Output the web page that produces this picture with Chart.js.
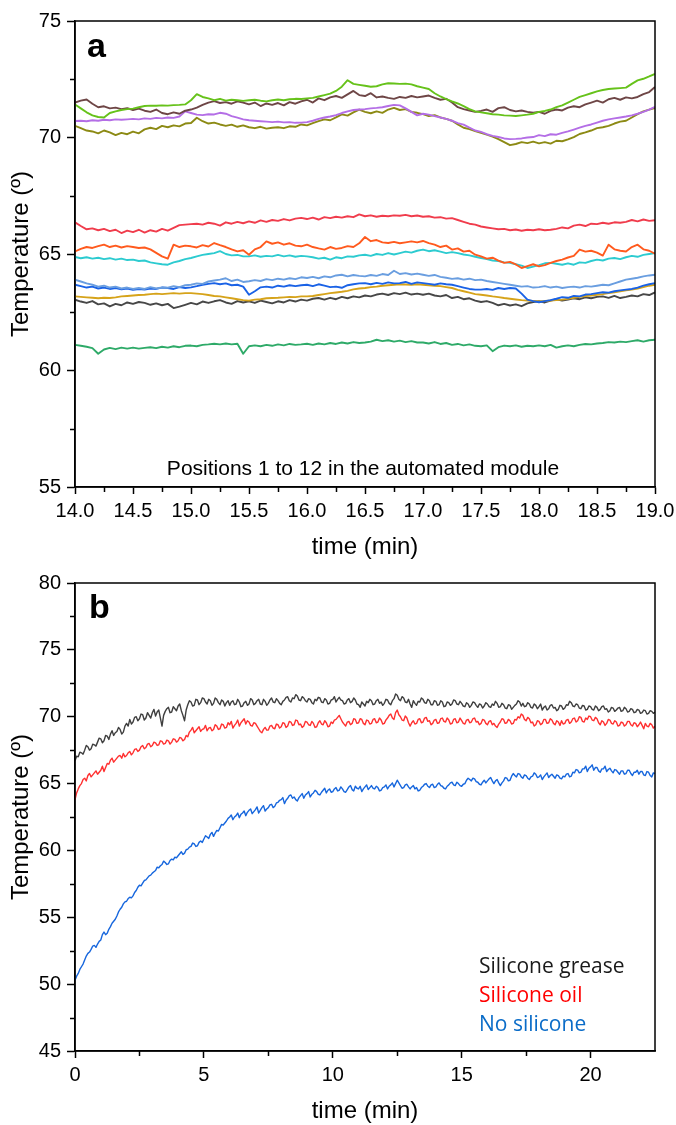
<!DOCTYPE html>
<html>
<head>
<meta charset="utf-8">
<script src="https://cdn.jsdelivr.net/npm/chart.js@4.4.1/dist/chart.umd.min.js"></script>
<style>
  html, body { margin: 0; padding: 0; background: #fff; }
  .panel { position: absolute; left: 0; width: 676px; height: 563px; }
  #panelA { top: 0; }
  #panelB { top: 564px; }
</style>
</head>
<body>
<div class="panel" id="panelA"><canvas id="chartA" width="676" height="563"></canvas></div>
<div class="panel" id="panelB"><canvas id="chartB" width="676" height="563"></canvas></div>
<script>
// ====== PANEL A: positions 1..12, readings every 0.05 min between 14.0 and 19.0
const STEP_A = 0.05;
const p1 = [
  71.42, 71.25, 71.08, 70.95, 70.88, 70.86, 71.05, 71.12, 71.18, 71.22,
  71.24, 71.3, 71.35, 71.37, 71.36, 71.38, 71.37, 71.39, 71.4, 71.42,
  71.6, 71.86, 71.74, 71.68, 71.6, 71.66, 71.58, 71.62, 71.6, 71.57,
  71.6, 71.62, 71.58, 71.55, 71.6, 71.63, 71.6, 71.64, 71.66, 71.65,
  71.68, 71.7, 71.76, 71.82, 71.88, 72.0, 72.18, 72.46, 72.3, 72.26,
  72.22, 72.18, 72.2, 72.28, 72.33, 72.32, 72.3, 72.31, 72.28, 72.2,
  72.14, 72.08, 71.9, 71.76, 71.65, 71.55, 71.46, 71.35, 71.22, 71.12,
  71.08, 71.04, 71.0, 70.98, 70.95, 70.94, 70.92, 70.95, 70.98, 71.02,
  71.1, 71.14, 71.2, 71.3, 71.38, 71.5, 71.62, 71.74, 71.82, 71.9,
  71.98, 72.04, 72.08, 72.1, 72.12, 72.14, 72.3, 72.45, 72.52, 72.62,
  72.73
];
const p2 = [
  71.5, 71.58, 71.63, 71.45, 71.3, 71.34, 71.25, 71.28, 71.22, 71.26,
  71.18, 71.24, 71.15, 71.1, 71.2, 71.05, 71.0, 71.08, 71.02, 71.15,
  71.2, 71.28, 71.4, 71.5, 71.56, 71.48, 71.52, 71.45, 71.55, 71.5,
  71.42, 71.5, 71.35, 71.46, 71.4, 71.48, 71.38, 71.52, 71.45, 71.55,
  71.62, 71.5, 71.68, 71.6, 71.72, 71.78, 71.7, 71.85, 72.0, 71.82,
  71.78, 71.9, 71.72, 71.76, 71.7, 71.66, 71.74, 71.7, 71.78, 71.72,
  71.76, 71.8, 71.7, 71.62, 71.66, 71.5, 71.3, 71.22, 71.16, 71.1,
  71.14, 71.2, 71.1, 71.26, 71.3, 71.18, 71.12, 71.16, 71.1, 71.06,
  71.1, 71.02, 71.14, 71.2, 71.16, 71.28, 71.34, 71.3, 71.42, 71.5,
  71.58, 71.5, 71.64, 71.7, 71.62, 71.72, 71.68, 71.74, 71.86, 71.95,
  72.17
];
const p3 = [
  70.71, 70.72, 70.7, 70.74, 70.72, 70.76, 70.74, 70.78, 70.76, 70.78,
  70.8, 70.78, 70.82, 70.8, 70.84, 70.82, 70.86, 70.84, 70.9, 71.12,
  71.05, 70.98, 70.96, 71.0, 70.99, 71.06, 71.02, 70.92, 70.85, 70.78,
  70.74, 70.72, 70.7, 70.68, 70.66, 70.68, 70.65, 70.66, 70.63, 70.64,
  70.66, 70.72, 70.8, 70.86, 70.9, 70.96, 71.05, 71.12, 71.18, 71.2,
  71.22, 71.25, 71.27, 71.3, 71.35, 71.4, 71.38, 71.25, 71.1, 70.95,
  71.02, 70.98, 70.92, 70.86, 70.8, 70.72, 70.62, 70.55, 70.42, 70.3,
  70.24, 70.14, 70.07, 70.02, 69.96, 69.93, 69.94, 69.96, 70.0, 70.02,
  70.1, 70.06, 70.14, 70.12, 70.2, 70.26, 70.34, 70.42, 70.5, 70.56,
  70.64, 70.72, 70.78, 70.82, 70.86, 70.9, 70.95, 71.02, 71.1, 71.2,
  71.32
];
const p4 = [
  70.5, 70.4, 70.3, 70.26, 70.18, 70.3, 70.22, 70.1, 70.2, 70.14,
  70.25, 70.18, 70.35, 70.42, 70.36, 70.5, 70.44, 70.52, 70.48, 70.6,
  70.62, 70.85, 70.7, 70.6, 70.64, 70.56, 70.5, 70.55, 70.46, 70.52,
  70.44, 70.4, 70.46, 70.38, 70.42, 70.44, 70.4, 70.48, 70.46, 70.56,
  70.52, 70.62, 70.7, 70.78, 70.74, 70.86, 70.99, 70.94, 71.08, 71.2,
  71.1, 71.04, 71.12, 71.06, 71.2, 71.27, 71.18, 71.22, 71.1, 71.06,
  71.0, 70.92, 70.96, 70.86, 70.8, 70.72, 70.56, 70.42, 70.36, 70.28,
  70.2, 70.12, 70.04, 69.93, 69.8, 69.67, 69.72, 69.8, 69.76, 69.82,
  69.75, 69.8, 69.74, 69.86, 69.84, 69.92, 70.02, 70.15, 70.22, 70.3,
  70.4, 70.44, 70.5, 70.6, 70.68, 70.72, 70.86, 71.0, 71.12, 71.2,
  71.27
];
const p5 = [
  66.36, 66.2, 66.06, 66.1, 66.02, 66.08, 65.98, 66.04, 65.9, 66.0,
  65.94, 66.04, 65.92, 66.02, 65.96, 66.08, 66.0, 66.12, 66.24, 66.26,
  66.28, 66.3, 66.26, 66.34, 66.3, 66.22, 66.36, 66.3, 66.38, 66.32,
  66.4, 66.34, 66.44, 66.38, 66.46, 66.42, 66.5, 66.44, 66.52, 66.55,
  66.5, 66.56, 66.48, 66.58, 66.54, 66.6, 66.56, 66.62, 66.58, 66.7,
  66.62, 66.66, 66.6, 66.64, 66.62, 66.66, 66.64, 66.68, 66.62, 66.65,
  66.6, 66.62, 66.56, 66.58, 66.52, 66.54, 66.46, 66.38, 66.3, 66.26,
  66.18, 66.14, 66.1, 66.06, 66.08, 66.02, 66.05, 66.0, 66.04, 66.02,
  66.06, 66.02, 66.04, 66.08, 66.14, 66.1, 66.22, 66.26, 66.2, 66.3,
  66.28, 66.34, 66.3, 66.36, 66.34, 66.38, 66.46, 66.4, 66.48, 66.42,
  66.45
];
const p6 = [
  65.11, 65.22, 65.3, 65.26, 65.34, 65.4, 65.3, 65.36, 65.28, 65.34,
  65.3, 65.26, 65.28, 65.2, 65.05, 64.9, 64.8, 65.4, 65.3, 65.36,
  65.33, 65.28, 65.38, 65.32, 65.47, 65.38, 65.3, 65.2, 65.11, 65.16,
  64.97, 65.2, 65.3, 65.54, 65.44, 65.5, 65.4, 65.46, 65.36, 65.33,
  65.4, 65.3, 65.24, 65.19, 65.3, 65.22, 65.26, 65.34, 65.3, 65.46,
  65.73, 65.55, 65.6, 65.5, 65.47, 65.52, 65.46, 65.5, 65.54, 65.5,
  65.56, 65.47, 65.4, 65.3, 65.36, 65.19, 65.24, 65.1, 65.14, 64.97,
  64.9, 64.8, 64.84, 64.72, 64.62, 64.66, 64.55, 64.4, 64.48, 64.56,
  64.47, 64.52, 64.62, 64.7, 64.76, 64.85, 64.92, 65.19, 65.1, 65.14,
  65.06, 64.93, 65.4, 65.2, 65.14, 65.11, 65.3, 65.4, 65.2, 65.14,
  65.01
];
const p7 = [
  64.87, 64.82, 64.86, 64.8, 64.84, 64.78, 64.82, 64.76, 64.8, 64.74,
  64.76, 64.7, 64.72, 64.64, 64.6, 64.56, 64.54, 64.64, 64.7, 64.78,
  64.83, 64.9, 64.96, 65.0, 65.04, 65.12, 65.0, 64.94, 64.96, 64.9,
  64.9, 64.94, 64.88, 64.92, 64.9, 64.96, 64.9, 64.94, 64.88, 64.92,
  64.9, 64.86, 64.8, 64.84, 64.76, 64.86, 64.82, 64.9, 64.88, 64.94,
  64.97, 64.92, 65.0, 64.96, 65.04, 64.98, 65.04, 65.1, 65.06, 65.14,
  65.19, 65.12, 65.16, 65.1, 65.04, 65.08, 65.04, 64.98, 64.94, 64.88,
  64.83, 64.78, 64.72, 64.7, 64.64, 64.62, 64.56, 64.5, 64.4, 64.46,
  64.52, 64.6, 64.62, 64.58, 64.54, 64.6, 64.54, 64.64, 64.62, 64.7,
  64.76, 64.72, 64.8, 64.83, 64.78, 64.86, 64.92, 64.88, 64.96, 65.0,
  65.04
];
const p8 = [
  63.9, 63.82, 63.74, 63.68, 63.6, 63.64, 63.56, 63.6, 63.52, 63.56,
  63.5, 63.54, 63.5, 63.58, 63.52, 63.56, 63.55, 63.62, 63.58, 63.66,
  63.68, 63.74, 63.72, 63.82, 63.86, 63.9, 63.96, 63.84, 63.9, 63.8,
  63.83, 63.88, 63.84, 63.92, 63.88, 63.94, 63.9, 63.96, 63.92, 64.0,
  63.97, 64.02, 63.96, 64.04, 64.0, 64.08, 64.11, 64.04, 64.1, 64.06,
  64.04, 64.1, 64.06, 64.14, 64.1, 64.28, 64.14, 64.18, 64.12, 64.16,
  64.11, 64.06, 64.1, 64.02, 63.98, 63.93, 63.96, 63.9, 63.94, 63.88,
  63.9, 63.84, 63.8, 63.76, 63.72, 63.68, 63.64, 63.6, 63.62, 63.56,
  63.58, 63.62, 63.56, 63.6, 63.54, 63.58, 63.6, 63.56, 63.62, 63.6,
  63.64, 63.68, 63.66, 63.74, 63.82, 63.9, 63.94, 63.98, 64.04, 64.08,
  64.11
];
const p9 = [
  63.68, 63.62, 63.56, 63.6, 63.52, 63.56, 63.5, 63.54, 63.48, 63.52,
  63.46, 63.5, 63.47, 63.52, 63.5, 63.56, 63.54, 63.5, 63.58, 63.54,
  63.57, 63.62, 63.68, 63.72, 63.75, 63.7, 63.74, 63.66, 63.68, 63.6,
  63.25, 63.4, 63.57, 63.6, 63.56, 63.64, 63.6, 63.66, 63.62, 63.66,
  63.68, 63.62, 63.7, 63.64, 63.58, 63.6, 63.55, 63.66, 63.7, 63.74,
  63.75, 63.7, 63.76, 63.72, 63.78, 63.74, 63.75, 63.8, 63.72, 63.78,
  63.75, 63.72, 63.68, 63.74, 63.7, 63.68, 63.62, 63.56, 63.5, 63.47,
  63.47, 63.5, 63.46, 63.54, 63.5, 63.54, 63.52, 63.3, 63.04, 62.98,
  62.93, 62.98, 63.02, 63.08, 63.15, 63.12, 63.2, 63.18, 63.26, 63.28,
  63.32, 63.36, 63.34, 63.4, 63.44, 63.47, 63.5, 63.56, 63.64, 63.7,
  63.75
];
const p10 = [
  63.18, 63.16, 63.14, 63.12, 63.1, 63.12, 63.11, 63.14, 63.18, 63.2,
  63.22, 63.24, 63.25, 63.28, 63.3, 63.28, 63.3, 63.32, 63.3, 63.32,
  63.32, 63.3, 63.28, 63.24, 63.2, 63.18, 63.14, 63.1, 63.06, 63.02,
  63.0, 63.04, 63.06, 63.1, 63.11, 63.12, 63.14, 63.16, 63.15, 63.18,
  63.18, 63.2, 63.24, 63.28, 63.32, 63.35, 63.38, 63.42, 63.48, 63.52,
  63.54, 63.58, 63.6, 63.64, 63.66, 63.68, 63.7, 63.69, 63.68, 63.7,
  63.68, 63.66, 63.64, 63.62, 63.58, 63.54, 63.46, 63.4, 63.34, 63.28,
  63.25, 63.22, 63.18, 63.15, 63.11, 63.08, 63.05, 63.02, 63.0, 62.98,
  62.96, 62.98, 63.0, 63.02, 63.04, 63.08, 63.12, 63.16, 63.2, 63.22,
  63.25, 63.28, 63.32, 63.36, 63.4, 63.44, 63.47, 63.52, 63.58, 63.64,
  63.68
];
const p11 = [
  63.04, 62.96, 62.9, 62.98, 62.84, 62.88, 62.75, 62.86, 62.8, 62.92,
  62.86, 62.94, 62.9, 62.82, 62.88, 62.8, 62.86, 62.68, 62.74, 62.82,
  62.9, 62.84, 62.96, 62.9, 62.97, 63.02, 62.92, 62.86, 62.98, 62.92,
  62.97, 62.9, 63.0, 62.94, 62.88, 62.97, 62.92, 63.02, 62.96, 63.04,
  63.0, 63.08, 63.11, 63.04, 63.12, 63.06, 63.16, 63.1, 63.18, 63.14,
  63.22, 63.18, 63.26, 63.3, 63.24, 63.32, 63.28, 63.34, 63.26, 63.3,
  63.25, 63.3, 63.22, 63.18, 63.24, 63.11, 63.16, 63.06, 63.1, 63.0,
  62.94, 62.98, 62.9, 62.8, 62.86, 62.79, 62.84, 62.76, 62.88, 62.94,
  62.97, 62.92, 63.0, 63.06, 63.0, 63.04, 63.1, 63.06, 63.14, 63.1,
  63.16, 63.18, 63.12, 63.2, 63.11, 63.16, 63.22, 63.18, 63.28, 63.24,
  63.35
];
const p12 = [
  61.1, 61.06, 61.02, 60.96, 60.72, 60.9, 60.97, 60.92, 60.98, 60.94,
  60.98, 60.94, 60.97, 61.0, 60.96, 61.02, 60.98, 61.04, 61.0, 61.06,
  61.07, 61.04, 61.1, 61.12, 61.15, 61.12, 61.16, 61.12, 61.15, 60.72,
  61.04, 61.08, 61.04, 61.1, 61.06, 61.12, 61.08, 61.14, 61.1, 61.12,
  61.15, 61.1, 61.16, 61.12, 61.18, 61.14, 61.2, 61.16, 61.22, 61.18,
  61.2, 61.24, 61.32, 61.26, 61.3, 61.24, 61.28, 61.22, 61.26, 61.2,
  61.2, 61.16, 61.22, 61.14, 61.18, 61.1, 61.14, 61.08, 61.12, 61.06,
  61.04, 61.08, 60.83, 61.0, 61.07, 61.04, 61.08, 61.02, 61.06, 61.04,
  61.08, 61.04, 61.1, 60.98, 61.04, 61.08, 61.04, 61.1, 61.14, 61.12,
  61.16, 61.18, 61.22, 61.2, 61.24, 61.22, 61.26, 61.3, 61.24, 61.3,
  61.32
];
const positionsA = [p1, p2, p3, p4, p5, p6, p7, p8, p9, p10, p11, p12];
const colorsA = ['#66c21a', '#6e4646', '#b46ee6', '#8c8a14', '#f03c4c', '#ff5a1e',
                 '#2ccbd0', '#6a9ee0', '#1a62e6', '#d6a31a', '#474747', '#2eaa68'];
const xTicksA = [14.0, 14.5, 15.0, 15.5, 16.0, 16.5, 17.0, 17.5, 18.0, 18.5, 19.0];
const yTicksA = [55, 60, 65, 70, 75];

// ====== PANEL B: warm-up curves, one reading every 0.0625 min from 0 to 22.5
const STEP_B = 0.0625;
const grease = [
  66.7, 67.05, 67.0, 67.35, 67.3, 67.2, 67.5, 67.85,
  67.75, 67.5, 67.6, 67.95, 67.9, 67.8, 68.1, 68.4,
  68.35, 68.05, 68.2, 68.6, 68.55, 68.3, 68.7, 68.95,
  68.6, 68.8, 68.9, 69.2, 69.05, 68.7, 68.85, 69.3,
  69.5, 69.3, 69.8, 69.45, 69.6, 69.95, 70.0, 69.7,
  69.85, 70.2, 70.15, 69.75, 69.9, 70.3, 70.1, 69.9,
  70.3, 70.55, 70.05, 70.35, 70.5, 69.9, 69.3, 70.1,
  70.4, 70.6, 70.7, 70.3, 70.35, 70.75, 70.6, 70.45,
  70.8, 70.95, 70.45, 70.1, 69.7, 70.5, 70.9, 71.2,
  71.1, 70.8, 70.85, 71.3, 71.25, 70.9, 71.05, 71.4,
  71.35, 71.1, 70.95, 71.3, 71.2, 70.85, 71.0, 71.4,
  71.3, 71.05, 70.9, 71.25, 71.15, 70.8, 71.05, 71.2,
  70.85, 71.1, 71.2, 70.9, 70.95, 71.3, 71.1, 70.75,
  70.8, 71.05, 71.15, 70.85, 70.95, 71.35, 71.25, 70.9,
  71.0, 71.2, 71.3, 70.95, 70.9, 71.3, 71.15, 70.85,
  71.0, 71.25, 71.4, 71.1, 71.05, 71.35, 71.2, 71.0,
  70.9, 71.15, 71.25, 71.45, 71.5, 71.2, 71.1, 71.4,
  71.35, 71.65, 71.55, 71.25, 71.2, 71.5, 71.4, 71.2,
  71.1, 71.35, 71.3, 71.05, 70.95, 71.3, 71.2, 71.45,
  71.4, 71.1, 71.05, 71.35, 71.25, 70.95, 71.0, 71.25,
  71.3, 71.5, 71.1, 71.3, 71.45, 71.25, 71.2, 70.95,
  71.0, 71.25, 71.35, 71.05, 71.15, 71.4, 71.25, 70.95,
  70.9, 70.7, 71.1, 70.95, 70.8, 71.15, 71.05, 71.3,
  71.2, 70.9, 70.95, 71.2, 71.3, 71.0, 71.1, 70.85,
  71.0, 71.3, 71.25, 71.0, 70.9, 71.2, 71.35, 71.7,
  71.6, 71.3, 71.2, 71.5, 71.4, 71.1, 71.05, 71.3,
  70.95, 70.7, 71.2, 71.0, 70.85, 71.15, 71.1, 71.4,
  71.3, 71.05, 71.0, 71.3, 71.2, 70.9, 70.9, 71.2,
  71.15, 70.85, 70.9, 71.2, 71.1, 70.75, 70.8, 71.1,
  71.05, 70.85, 70.95, 71.25, 71.2, 70.95, 70.9, 71.15,
  71.0, 70.8, 70.75, 71.05, 70.95, 70.7, 70.85, 71.1,
  71.05, 70.85, 70.7, 70.95, 70.9, 70.65, 70.8, 71.05,
  70.95, 70.75, 70.7, 70.95, 70.85, 71.15, 71.0, 70.7,
  70.75, 71.0, 70.9, 70.65, 70.6, 70.9, 70.85, 70.55,
  70.7, 70.85, 70.95, 71.2, 71.1, 70.8, 71.0, 70.75,
  70.8, 71.05, 70.95, 70.7, 70.65, 70.95, 70.85, 70.6,
  70.75, 70.95, 70.5, 70.7, 70.8, 70.5, 70.6, 70.85,
  70.9, 70.65, 70.7, 70.45, 70.55, 70.85, 70.8, 70.55,
  70.65, 70.9, 70.85, 71.15, 71.05, 70.8, 70.75, 70.95,
  70.9, 70.65, 70.6, 70.85, 70.8, 70.5, 70.55, 70.8,
  70.75, 70.55, 70.5, 70.8, 70.7, 70.45, 70.55, 70.75,
  70.8, 70.55, 70.6, 70.35, 70.45, 70.7, 70.65, 70.4,
  70.5, 70.65, 70.7, 70.4, 70.45, 70.7, 70.6, 70.35,
  70.4, 70.6, 70.55, 70.3, 70.35, 70.55, 70.5, 70.25,
  70.3, 70.5, 70.45, 70.2, 70.25, 70.45, 70.4, 70.25,
  70.35
];
const oil = [
  63.8, 64.3, 64.6, 64.85, 65.0, 65.3, 65.4, 65.2,
  65.6, 65.75, 65.5, 65.65, 65.8, 65.95, 65.7, 65.85,
  66.0, 66.3, 65.9, 66.2, 66.5, 66.45, 66.75, 66.9,
  66.6, 66.75, 66.9, 67.05, 67.1, 66.9, 67.25, 67.0,
  67.1, 67.3, 67.4, 67.15, 67.3, 67.55, 67.6, 67.4,
  67.5, 67.75, 67.85, 67.6, 67.7, 67.95, 68.0, 67.75,
  67.85, 68.1, 68.05, 67.85, 67.9, 68.2, 68.15, 67.95,
  68.0, 68.25, 68.2, 67.95, 68.1, 68.35, 68.3, 68.1,
  68.2, 68.45, 68.4, 68.2, 68.3, 68.6, 68.5, 68.85,
  69.0, 69.2, 68.8, 68.95, 69.1, 69.25, 68.9, 69.05,
  69.1, 69.35, 68.95, 69.15, 69.2, 68.95, 69.05, 69.4,
  69.3, 69.05, 69.1, 69.45, 69.4, 69.15, 69.2, 69.55,
  69.4, 69.65, 69.15, 69.35, 69.5, 69.75, 69.3, 69.55,
  69.7, 69.85, 69.45, 69.7, 69.6, 69.35, 69.3, 69.55,
  69.5, 69.3, 69.1, 68.9, 68.8, 69.05, 69.2, 69.0,
  69.0, 69.3, 69.35, 69.15, 69.1, 69.45, 69.4, 69.15,
  69.25, 69.55, 69.5, 69.2, 69.3, 69.65, 69.6, 69.35,
  69.4, 69.75, 69.7, 69.4, 69.45, 69.2, 69.3, 69.65,
  69.6, 69.4, 69.35, 69.65, 69.5, 69.2, 69.25, 69.55,
  69.7, 69.45, 69.4, 69.7, 69.55, 69.25, 69.3, 69.6,
  69.5, 69.75, 69.8, 69.95, 70.1, 69.85, 69.6, 69.45,
  69.3, 69.6, 69.65, 69.4, 69.5, 69.85, 69.8, 69.5,
  69.55, 69.85, 69.8, 69.5, 69.4, 69.75, 69.7, 69.45,
  69.5, 69.8, 69.85, 69.55, 69.6, 69.9, 69.75, 69.45,
  69.5, 69.75, 69.9, 70.1, 70.2, 69.9, 69.8, 70.3,
  70.5, 70.15, 70.0, 69.75, 69.7, 70.05, 69.9, 69.55,
  69.3, 69.55, 69.7, 69.45, 69.5, 69.8, 69.85, 69.55,
  69.6, 69.9, 69.95, 69.65, 69.7, 69.4, 69.5, 69.75,
  69.8, 69.5, 69.55, 69.85, 69.9, 69.65, 69.6, 69.9,
  69.75, 69.45, 69.5, 69.8, 69.85, 69.55, 69.6, 69.9,
  69.7, 69.5, 69.45, 69.75, 69.8, 69.55, 69.6, 69.85,
  69.9, 69.6, 69.65, 69.4, 69.5, 69.8, 69.75, 69.5,
  69.4, 69.65, 69.7, 69.4, 69.5, 69.3, 69.2, 69.45,
  69.6, 69.85, 69.8, 69.5, 69.55, 69.8, 69.7, 69.45,
  69.5, 69.8, 69.75, 70.0, 69.9, 70.2, 70.1, 69.8,
  69.7, 69.95, 69.85, 69.55, 69.6, 69.3, 69.4, 69.7,
  69.65, 69.4, 69.5, 69.8, 69.8, 69.5, 69.55, 69.85,
  69.75, 69.5, 69.4, 69.7, 69.6, 69.35, 69.7, 69.45,
  69.5, 69.75, 69.8, 69.5, 69.6, 69.85, 69.9, 69.6,
  69.7, 70.0, 69.95, 69.65, 69.6, 69.9, 69.8, 70.05,
  70.0, 69.75, 69.7, 69.95, 69.85, 69.55, 69.4, 69.7,
  69.6, 69.35, 69.5, 69.8, 69.75, 69.5, 69.45, 69.7,
  69.6, 69.3, 69.35, 69.6, 69.55, 69.3, 69.4, 69.65,
  69.65, 69.4, 69.3, 69.55, 69.5, 69.25, 69.4, 69.6,
  69.35, 69.1, 69.5, 69.3, 69.25, 69.5, 69.4, 69.15,
  69.3
];
const noSilicone = [
  50.3, 50.6, 50.8, 51.1, 51.3, 51.5, 51.8, 52.1,
  52.3, 52.4, 52.6, 52.85, 52.9, 52.75, 53.0, 53.2,
  53.3, 53.7, 53.9, 53.7, 53.8, 54.1, 54.3, 54.55,
  54.7, 54.85, 55.1, 55.4, 55.6, 55.75, 56.0, 56.15,
  56.2, 56.4, 56.5, 56.45, 56.6, 56.85, 57.0, 57.25,
  57.4, 57.35, 57.55, 57.75, 57.8, 57.95, 58.1, 58.15,
  58.3, 58.4, 58.5, 58.75, 58.7, 58.85, 58.95, 59.2,
  59.1, 58.95, 59.0, 59.25, 59.35, 59.3, 59.5, 59.45,
  59.6, 59.75, 59.9, 59.7, 59.8, 60.05, 60.1, 60.25,
  60.3, 60.55, 60.5, 60.3, 60.35, 60.6, 60.7, 60.6,
  60.85, 61.1, 61.0, 60.9, 61.2, 61.35, 61.05, 61.3,
  61.5, 61.45, 61.7, 61.95, 61.9, 62.05, 62.2, 62.4,
  62.5, 62.65, 62.3, 62.5, 62.6, 62.8, 62.45, 62.7,
  62.8, 62.95, 62.6, 62.85, 63.0, 63.1, 62.75, 62.9,
  63.05, 63.25, 62.8, 63.0, 63.2, 63.35, 62.95, 63.1,
  63.2, 63.4, 63.45, 63.2, 63.3, 63.55, 63.6, 63.75,
  63.8, 63.95, 63.5, 63.75, 63.9, 64.1, 64.15, 63.9,
  64.0, 63.8, 63.7, 63.95, 64.1, 64.25, 63.9, 64.15,
  64.25, 64.4, 64.0, 64.2, 64.3, 64.5, 64.4, 64.2,
  64.15, 64.35, 64.5, 64.65, 64.3, 64.5, 64.6, 64.35,
  64.4, 64.6, 64.7, 64.45, 64.5, 64.75, 64.6, 64.4,
  64.35, 64.55, 64.75, 64.85, 64.55, 64.45, 64.8, 64.65,
  64.6, 64.8, 64.4, 64.6, 64.75, 64.9, 64.55, 64.7,
  64.85, 64.65, 64.6, 64.8, 64.7, 64.45, 64.5, 64.7,
  64.75, 64.9, 64.6, 64.8, 64.9, 65.05, 64.75, 65.0,
  65.25, 65.05, 64.85, 64.65, 64.7, 64.9, 64.95, 64.75,
  64.6, 64.75, 64.85, 64.6, 64.7, 64.45, 64.5, 64.7,
  64.8, 64.95, 65.0, 64.8, 64.7, 64.9, 64.95, 64.7,
  64.75, 64.95, 65.05, 64.85, 64.8, 64.65, 64.6, 64.8,
  64.9, 65.05, 65.1, 64.9, 64.85, 65.1, 65.0, 64.85,
  64.8, 64.95, 65.0, 65.25, 65.4, 65.3, 65.2, 65.4,
  65.35, 65.15, 65.1, 64.95, 64.9, 65.1, 65.25, 65.05,
  65.2, 65.35, 65.45, 65.2, 65.0, 65.2, 65.3, 65.05,
  64.85, 65.05, 65.2, 65.45, 65.4, 65.2, 65.25, 65.55,
  65.75, 65.6, 65.5, 65.75, 65.7, 65.5, 65.4, 65.65,
  65.6, 65.4, 65.3, 65.5, 65.55, 65.8, 65.7, 65.45,
  65.5, 65.65, 65.3, 65.5, 65.65, 65.8, 65.45, 65.6,
  65.7, 65.55, 65.4, 65.65, 65.6, 65.4, 65.35, 65.55,
  65.5, 65.7, 65.75, 65.5, 65.55, 65.85, 65.8, 66.05,
  66.0, 65.8, 65.85, 66.1, 66.1, 66.3, 65.9, 66.15,
  66.25, 66.4, 66.0, 66.2, 66.2, 65.95, 65.85, 66.1,
  66.1, 66.3, 65.9, 66.05, 66.15, 65.95, 65.8, 66.05,
  66.0, 65.85, 65.7, 65.95, 65.95, 65.7, 65.75, 66.0,
  66.0, 65.75, 65.6, 65.85, 65.85, 66.0, 65.7, 65.9,
  65.9, 65.65, 65.6, 65.9, 65.85, 65.6, 65.5, 65.8,
  65.75
];
const seriesB = ['Silicone grease', 'Silicone oil', 'No silicone'];
const colorsB = ['#3f3f3f', '#ff3030', '#1666dd'];
const legendColorsB = ['#1a1a1a', '#ff0000', '#0a6cc8'];
const xTicksB = [0, 5, 10, 15, 20];
const yTicksB = [45, 50, 55, 60, 65, 70, 75, 80];

// ====== SHARED STYLE
const SANS = '"Liberation Sans", Arial, sans-serif';
const TICK_FONT = { family: SANS, size: 20 };
const TITLE_FONT = { family: SANS, size: 24 };
const CANVAS_H = 563;
const PLOT_BOTTOM = 487;
const PLOT_LEFT = 75;

const toPoints = (arr, t0, step) => arr.map((v, i) => ({ x: t0 + i * step, y: v }));
const midpoints = ticks => ticks.slice(1).map((v, i) => (v + ticks[i]) / 2);

// minor ticks halfway between the labelled ones, plus the closed frame
const frameAndMinor = {
  id: 'frameAndMinor',
  afterDraw(chart, args, opts) {
    const { ctx, chartArea: a, scales: { x, y } } = chart;
    ctx.save();
    ctx.strokeStyle = '#000';
    ctx.lineWidth = 1.5;
    ctx.beginPath();
    midpoints(opts.xMajor).forEach(v => {
      const px = Math.round(x.getPixelForValue(v)) + 0.5;
      ctx.moveTo(px, a.bottom); ctx.lineTo(px, a.bottom + 5);
    });
    midpoints(opts.yMajor).forEach(v => {
      const py = Math.round(y.getPixelForValue(v)) + 0.5;
      ctx.moveTo(a.left, py); ctx.lineTo(a.left - 5, py);
    });
    ctx.stroke();
    ctx.strokeRect(a.left, a.top, a.right - a.left, a.bottom - a.top);
    ctx.restore();
  }
};

// free text inside the plot: panel letter, notes, coloured legend
const plotText = {
  id: 'plotText',
  afterDraw(chart, args, opts) {
    const ctx = chart.ctx;
    ctx.save();
    ctx.textBaseline = 'alphabetic';
    (opts.items || []).forEach(t => {
      ctx.font = t.font;
      ctx.fillStyle = t.color || '#000';
      ctx.textAlign = t.align || 'left';
      ctx.fillText(t.text, t.x, t.y);
    });
    ctx.restore();
  }
};

function makeChart(id, cfg) {
  return new Chart(document.getElementById(id), {
    type: 'line',
    data: { datasets: cfg.datasets },
    options: {
      responsive: false,
      animation: false,
      events: [],
      layout: { padding: { left: 0, right: 21, top: cfg.top, bottom: 0 } },
      elements: { point: { radius: 0 }, line: { tension: 0, borderJoinStyle: 'round' } },
      plugins: {
        legend: { display: false },
        tooltip: { enabled: false },
        frameAndMinor: { xMajor: cfg.xTicks, yMajor: cfg.yTicks },
        plotText: { items: cfg.texts }
      },
      scales: {
        x: {
          type: 'linear',
          min: cfg.xTicks[0],
          max: cfg.xMax,
          afterBuildTicks: s => { s.ticks = cfg.xTicks.map(v => ({ value: v })); },
          afterFit: s => { s.height = CANVAS_H - PLOT_BOTTOM; s.paddingLeft = 0; s.paddingRight = 0; },
          ticks: { font: TICK_FONT, color: '#000', padding: 5, maxRotation: 0, autoSkip: false, callback: cfg.xLabel },
          grid: { drawOnChartArea: false, tickLength: 7, tickWidth: 1.5, color: '#000' },
          border: { display: true, color: '#000', width: 1.5 },
          title: { display: true, text: 'time (min)', font: TITLE_FONT, color: '#000', padding: { top: 0, bottom: 1 } }
        },
        y: {
          type: 'linear',
          min: cfg.yTicks[0],
          max: cfg.yTicks[cfg.yTicks.length - 1],
          afterBuildTicks: s => { s.ticks = cfg.yTicks.map(v => ({ value: v })); },
          afterFit: s => { s.width = PLOT_LEFT; },
          ticks: { font: TICK_FONT, color: '#000', padding: 6, callback: v => String(v) },
          grid: { drawOnChartArea: false, tickLength: 8, tickWidth: 1.5, color: '#000' },
          border: { display: true, color: '#000', width: 1.5 },
          title: { display: true, text: 'Temperature (º)', font: TITLE_FONT, color: '#000', padding: { top: 7, bottom: 0 } }
        }
      }
    },
    plugins: [frameAndMinor, plotText]
  });
}

// ====== CHART A
makeChart('chartA', {
  top: 21,
  datasets: positionsA.map((s, i) => ({
    label: 'Position ' + (i + 1),
    data: toPoints(s, xTicksA[0], STEP_A),
    borderColor: colorsA[i],
    borderWidth: 1.9
  })),
  xTicks: xTicksA,
  xMax: xTicksA[xTicksA.length - 1],
  yTicks: yTicksA,
  xLabel: v => Number(v).toFixed(1),
  texts: [
    { text: 'a', x: 87, y: 57, font: 'bold 34px ' + SANS },
    { text: 'Positions 1 to 12 in the automated module', x: 363, y: 475, align: 'center', font: '21px ' + SANS }
  ]
});

// ====== CHART B
const legendX = 479, legendY = [409, 438, 466.5];
makeChart('chartB', {
  top: 19,
  datasets: [grease, oil, noSilicone].map((s, i) => ({
    label: seriesB[i],
    data: toPoints(s, 0, STEP_B),
    borderColor: colorsB[i],
    borderWidth: 1.4
  })),
  xTicks: xTicksB,
  xMax: 22.5,
  yTicks: yTicksB,
  xLabel: v => String(v),
  texts: [
    { text: 'b', x: 89, y: 54, font: 'bold 34px ' + SANS },
    ...seriesB.map((name, i) => ({
      text: name, x: legendX, y: legendY[i], color: legendColorsB[i], font: '21px "Open Sans", sans-serif'
    }))
  ]
});
</script>
</body>
</html>
